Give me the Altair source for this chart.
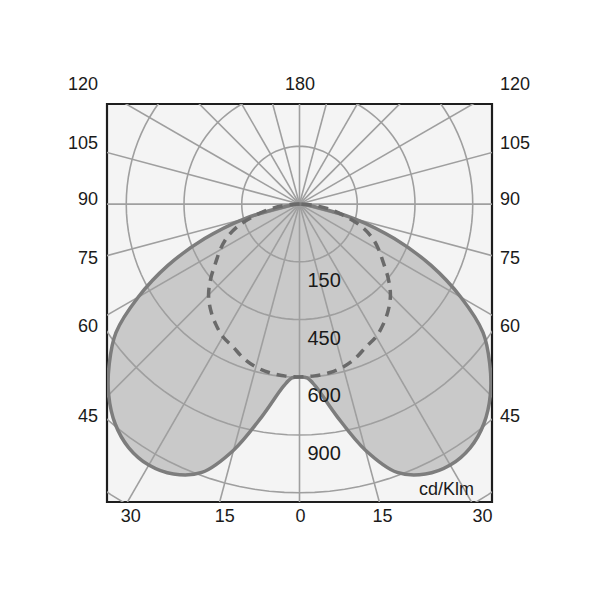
import math
import altair as alt
import pandas as pd

# ---- photometric data (cd/klm), gamma angle from nadir, negative = left ----
gamma_c0 = [-90, -85, -80, -75, -70, -65, -60, -55, -50, -45, -40, -35, -30, -25, -20, -15, -10, -5, -2.5,
            0, 2.5, 5, 10, 15, 20, 25, 30, 35, 40, 45, 50, 55, 60, 65, 70, 75, 80, 85, 90]
int_c0 = [0, 8, 40, 150, 262, 377, 484, 582, 645, 701, 745, 773, 783, 774, 742, 662, 560, 475, 452,
          449, 452, 475, 560, 662, 742, 774, 783, 773, 745, 701, 645, 582, 484, 377, 262, 150, 40, 8, 0]

gamma_c90 = [-90, -85, -80, -75, -70, -65, -60, -55, -50, -45, -40, -35, -30, -25, -20, -15, -10, -5,
             0, 5, 10, 15, 20, 25, 30, 35, 40, 45, 50, 55, 60, 65, 70, 75, 80, 85, 90]
int_c90 = [0, 40, 82, 125, 172, 209, 238, 266, 301, 334, 359, 380, 398, 409, 426, 438, 445, 448,
           449, 448, 445, 438, 426, 409, 398, 380, 359, 334, 301, 266, 238, 209, 172, 125, 82, 40, 0]

ring_values = [150, 300, 450, 600, 750, 900]
ring_labels = ["150", "450", "600", "900"]
ray_step = 15

left_labels = ["120", "105", "90", "75", "60", "45"]
bottom_labels = ["30", "15", "0", "15", "30"]
top_label = "180"
unit_label = "cd/Klm"

# ---- layout ----
W, H = 385, 398
XD = (-500, 500)
YD = (-774, 260)


def to_xy(g, r):
    a = math.radians(g)
    return r * math.sin(a), -r * math.cos(a)


def px(xp, yp):
    # page pixel -> data units (frame at x 107..492, y 104..502)
    return (xp - 107) / W * (XD[1] - XD[0]) + XD[0], YD[1] - (yp - 104) / H * (YD[1] - YD[0])


rows = []
for i, (g, r) in enumerate(zip(gamma_c0, int_c0)):
    x, y = to_xy(g, r)
    rows.append({"x": x, "y": y, "o": i})
df_c0 = pd.DataFrame(rows)

rows = []
for i, (g, r) in enumerate(zip(gamma_c90, int_c90)):
    x, y = to_xy(g, r)
    rows.append({"x": x, "y": y, "o": i})
df_c90 = pd.DataFrame(rows)

rows = []
for rv in ring_values:
    for k in range(0, 121):
        x, y = to_xy(k * 3, rv)
        rows.append({"x": x, "y": y, "o": k, "ring": rv})
df_rings = pd.DataFrame(rows)

rows = []
for a in range(0, 360, ray_step):
    x2, y2 = to_xy(a, 1200)
    rows.append({"x": 0.0, "y": 0.0, "x2": x2, "y2": y2})
df_rays = pd.DataFrame(rows)

xs = alt.Scale(domain=list(XD), nice=False, zero=False)
ys = alt.Scale(domain=list(YD), nice=False, zero=False)
X = alt.X("x:Q", scale=xs, axis=None)
Y = alt.Y("y:Q", scale=ys, axis=None)

fill = alt.Chart(df_c0).mark_line(fill="#c9c9c9", stroke="#c9c9c9", strokeWidth=0.1, clip=True,
                                  interpolate="catmull-rom").encode(x=X, y=Y, order="o:Q")

rings = alt.Chart(df_rings).mark_line(color="#9f9f9f", strokeWidth=1.6, clip=True).encode(
    x=X, y=Y, order="o:Q", detail="ring:N")

rays = alt.Chart(df_rays).mark_rule(color="#9f9f9f", strokeWidth=1.6, clip=True).encode(
    x=X, y=Y, x2="x2:Q", y2="y2:Q")

outline = alt.Chart(df_c0).mark_line(color="#7d7d7d", strokeWidth=3.5, clip=True,
                                     interpolate="catmull-rom").encode(x=X, y=Y, order="o:Q")

dashed = alt.Chart(df_c90).mark_line(color="#6a6a6a", strokeWidth=3.5, strokeDash=[10, 7], clip=True,
                                     interpolate="catmull-rom").encode(x=X, y=Y, order="o:Q")

# labels
lab = []
for t, yp in zip(left_labels, [84.7, 143.8, 200, 259.3, 326.7, 416.7]):
    x, y = px(98, yp)
    lab.append({"t": t, "x": x, "y": y, "al": "right"})
    x, y = px(500, yp)
    lab.append({"t": t, "x": x, "y": y, "al": "left"})
for t, xp in zip(bottom_labels, [130.8, 224.7, 300.5, 382.5, 482.5]):
    x, y = px(xp, 517)
    lab.append({"t": t, "x": x, "y": y, "al": "center"})
x, y = px(300, 84.7)
lab.append({"t": top_label, "x": x, "y": y, "al": "center"})
df_lab = pd.DataFrame(lab)

outer_text = []
for al in ["left", "right", "center"]:
    outer_text.append(
        alt.Chart(df_lab[df_lab.al == al]).mark_text(
            align=al, baseline="middle", font="Liberation Sans", fontSize=18, color="#1a1a1a"
        ).encode(x=X, y=Y, text="t:N")
    )

ring_lab = pd.DataFrame({"t": ring_labels, "x": [0.0] * 4, "y": [-v for v in ring_values[:4]]})
inner_text = alt.Chart(ring_lab).mark_text(
    align="left", baseline="middle", dx=8, dy=19, font="Liberation Sans", fontSize=20, color="#1a1a1a"
).encode(x=X, y=Y, text="t:N")

ux, uy = px(474, 490)
unit = alt.Chart(pd.DataFrame({"t": [unit_label], "x": [ux], "y": [uy]})).mark_text(
    align="right", baseline="middle", font="Liberation Sans", fontSize=18, color="#1a1a1a"
).encode(x=X, y=Y, text="t:N")

chart = alt.layer(fill, rings, rays, outline, dashed, inner_text, unit, *outer_text).properties(
    width=W, height=H,
    autosize=alt.AutoSizeParams(type="none"),
    padding={"left": 99, "top": 96, "right": 92, "bottom": 82},
    background="white",
).configure_view(stroke="#1e1e1e", strokeWidth=2.2, fill="#f4f4f4")

chart.save("out.html", embed_options={"renderer": "svg", "actions": False})
